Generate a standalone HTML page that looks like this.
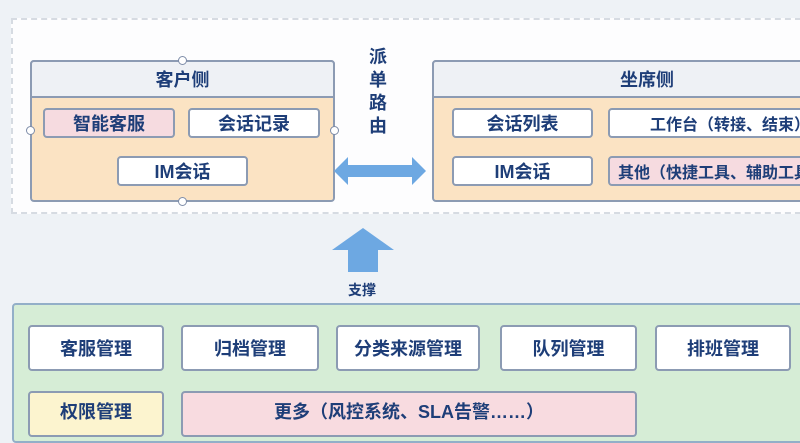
<!DOCTYPE html>
<html><head><meta charset="utf-8"><style>
body{margin:0;width:800px;height:427px;overflow:hidden;background:#eef2f6;font-family:"Liberation Sans","Noto Sans CJK SC",sans-serif;position:relative}
div{position:absolute;box-sizing:border-box}
.t{color:#1e3e78;font-weight:bold;display:flex;align-items:center;justify-content:center;font-size:18px}
.b{border:2px solid #8c9bb3;border-radius:4px;background:#fff}
.c{width:9px;height:9px;border-radius:50%;border:1.5px solid #7d8ca8;background:#fff}
</style></head><body>
<div style="left:11px;top:18px;width:800px;height:196px;border:2px dashed #d6dbe2;background:#fdfdfe;border-right:none"></div>

<div style="left:30px;top:60px;width:305px;height:142px;border:2px solid #8c9bb3;border-radius:4px;background:#fbe3c3"></div>
<div class="t" style="left:30px;top:60px;width:305px;height:38px;border:2px solid #8c9bb3;border-radius:4px 4px 0 0;background:#eef1f5">客户侧</div>
<div class="t b" style="left:43px;top:108px;width:132px;height:30px;background:#f6dbe0">智能客服</div>
<div class="t b" style="left:188px;top:108px;width:132px;height:30px">会话记录</div>
<div class="t b" style="left:117px;top:156px;width:131px;height:30px">IM会话</div>
<div class="c" style="left:178px;top:56px"></div>
<div class="c" style="left:26px;top:126px"></div>
<div class="c" style="left:330px;top:126px"></div>
<div class="c" style="left:178px;top:197px"></div>

<div class="t" style="left:366px;top:44px;width:24px;height:96px;flex-direction:column;line-height:23px;font-size:18px">派<br>单<br>路<br>由</div>
<svg style="position:absolute;left:334px;top:155px" width="92" height="32"><polygon points="0,16 14,2 14,10 78,10 78,2 92,16 78,30 78,22 14,22 14,30" fill="#6da8e2"/></svg>

<div style="left:432px;top:60px;width:380px;height:142px;border:2px solid #8c9bb3;border-radius:4px;background:#fbe3c3"></div>
<div class="t" style="left:432px;top:60px;width:380px;height:38px;border:2px solid #8c9bb3;border-radius:4px 4px 0 0;background:#eef1f5;justify-content:flex-start;padding-left:186px">坐席侧</div>
<div class="t b" style="left:452px;top:108px;width:141px;height:30px">会话列表</div>
<div class="t b" style="left:608px;top:108px;width:210px;height:30px;font-size:16px;justify-content:flex-start;padding-left:40px;white-space:nowrap">工作台（转接、结束）</div>
<div class="t b" style="left:452px;top:156px;width:141px;height:30px">IM会话</div>
<div class="t b" style="left:608px;top:156px;width:210px;height:30px;font-size:16px;background:#f6dbe0;justify-content:flex-start;padding-left:8px;white-space:nowrap;overflow:hidden">其他（快捷工具、辅助工具）</div>

<svg style="position:absolute;left:332px;top:228px" width="62" height="44"><polygon points="31,0 62,22 46,22 46,44 16,44 16,22 0,22" fill="#6da8e2"/></svg>
<div class="t" style="left:340px;top:280px;width:44px;height:20px;font-size:14px">支撑</div>

<div style="left:12px;top:303px;width:800px;height:140px;border:2px solid #93afc8;border-radius:4px;background:#d6edd6"></div>
<div class="t b" style="left:28px;top:325px;width:136px;height:46px">客服管理</div>
<div class="t b" style="left:181px;top:325px;width:138px;height:46px">归档管理</div>
<div class="t b" style="left:336px;top:325px;width:144px;height:46px">分类来源管理</div>
<div class="t b" style="left:500px;top:325px;width:137px;height:46px">队列管理</div>
<div class="t b" style="left:655px;top:325px;width:136px;height:46px">排班管理</div>
<div class="t b" style="left:28px;top:391px;width:136px;height:46px;background:#fcf4cf;padding-bottom:6px">权限管理</div>
<div class="t b" style="left:181px;top:391px;width:456px;height:46px;background:#f8dbe0;padding-bottom:6px">更多（风控系统、SLA告警……）</div>
</body></html>
